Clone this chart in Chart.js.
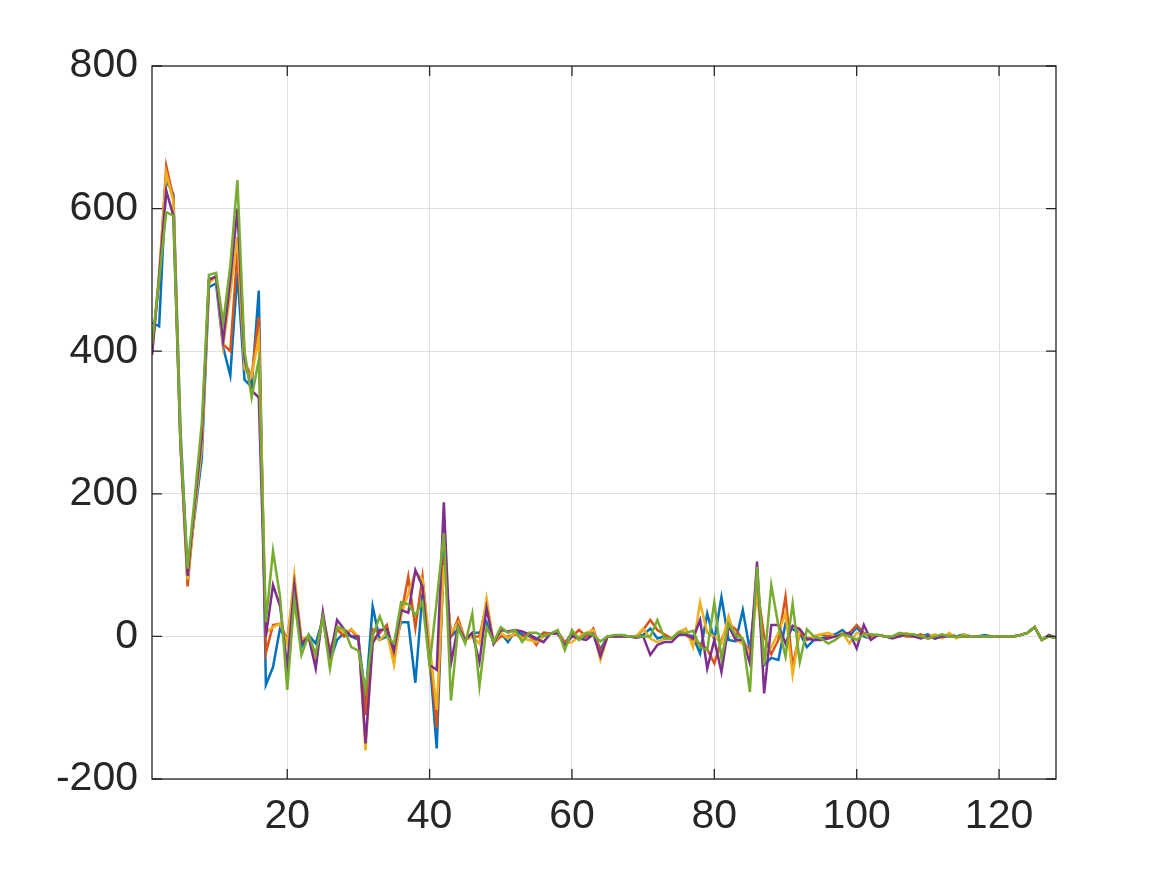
<!DOCTYPE html>
<html>
<head>
<meta charset="utf-8">
<title>Signals</title>
<script src="https://cdn.jsdelivr.net/npm/chart.js@4.4.1/dist/chart.umd.min.js"></script>
<style>
  html, body { margin: 0; padding: 0; background: #ffffff; }
  #wrap { width: 1167px; height: 875px; }
</style>
</head>
<body>
<div id="wrap"><canvas id="chart" width="1167" height="875"></canvas></div>
<script>
// values, x = 1..128
const blueVals = [
  440, 435, 640, 620, 290, 90, 170, 250, 490, 495, 405, 366, 510, 360, 350, 485,
  -68, -43, 12, -10, 60, -15, 2, -10, 25, -35, -5, 5, 0, -5, -85, 42,
  -5, 0, -15, 20, 20, -65, 60, -30, -157, 120, 0, 10, -5, 5, 5, 20,
  -10, 5, -8, 7, 3, 0, -5, 5, 4, 4, -10, 5, -3, 0, 5, -18,
  0, 0, 2, 0, 0, 2, 11, -3, 0, -3, 2, 3, 0, -24, 32, -5,
  55, -5, -7, 37, -20, 79, -40, -30, -33, 18, 10, 5, -15, -5, -3, 0,
  3, 9, 0, 13, 0, -3, 2, 0, 0, 0, 3, 0, 0, 3, -3, 0,
  3, 0, 3, 0, 0, 2, 0, 0, 0, 0, 2, 5, 13, -5, 0, -2
];
const orangeVals = [
  400, 500, 660, 615, 270, 70, 180, 270, 500, 505, 410, 400, 540, 385, 364, 448,
  -23, 16, 18, -5, 75, -5, 0, -30, 30, -20, 10, 0, 10, -5, -110, 10,
  5, 16, -30, 30, 84, 12, 84, -20, -128, 110, 0, 25, -5, 0, 0, 45,
  -10, 0, 0, 3, 0, 3, -12, 5, 4, 7, -8, 0, 9, 0, 11, -23,
  0, 0, 0, 0, 0, 9, 23, 9, 3, -3, 6, 2, -5, -10, -18, -38,
  -5, 18, 10, -5, -24, 70, 0, -25, -5, 56, -42, 5, -5, 0, 3, 0,
  0, 3, 5, 16, 5, 0, 2, 0, 0, 3, 0, 0, 3, -3, 0, 0,
  3, 0, 0, 0, 0, 0, 0, 0, 0, 0, 2, 5, 13, -5, 0, -2
];
const yellowVals = [
  395, 510, 650, 610, 280, 80, 175, 265, 495, 505, 408, 480, 560, 375, 365, 420,
  5, 13, 18, -10, 86, -5, 0, -35, 30, -40, 15, 5, 10, 0, -160, 0,
  -5, 5, -40, 30, 60, 90, 80, -10, -103, 100, 5, 20, -5, 0, -10, 53,
  -10, 5, -3, 5, -3, -5, -8, 0, 4, 4, -10, -8, 0, 5, 9, -33,
  0, 0, 0, 0, 0, 11, -3, -8, -3, -3, 6, 11, -15, 48, 5, 0,
  -10, 28, -5, -10, -24, 60, -30, -15, 5, 32, -54, 10, -3, 0, 3, 5,
  0, 5, -10, 5, 3, -3, 2, 0, 0, 0, 5, 0, 0, 0, 3, -3,
  5, -3, 3, 0, 0, 0, 0, 0, 0, 0, 2, 5, 13, -5, 0, -2
];
const purpleVals = [
  395, 505, 625, 590, 270, 85, 185, 280, 500, 505, 415, 500, 600, 390, 345, 335,
  0, 72, 42, -43, 72, -10, 0, -45, 34, -30, 23, 10, 0, 0, -150, -10,
  9, 10, -20, 37, 33, 93, 70, -40, -47, 188, -38, 15, -5, 5, -36, 40,
  -10, 9, 7, 9, 7, 3, -3, -8, 4, 4, -12, 0, -3, -5, 3, -28,
  0, 0, 0, 0, -2, 0, -26, -12, -8, -8, 2, 3, -3, 23, -45, -5,
  -50, 15, -5, -5, -38, 105, -80, 16, 16, -10, 15, 10, -3, -5, -5, -3,
  0, 3, 5, -17, 16, -5, 2, 0, -3, 0, 3, 0, -3, 0, -3, 0,
  0, 0, 0, 0, 0, 0, 0, 0, 0, 0, 2, 5, 13, -5, 2, -2
];
const greenVals = [
  410, 500, 595, 590, 275, 95, 195, 300, 507, 510, 440, 520, 640, 400, 335, 388,
  20, 120, 55, -75, 51, -26, 2, -25, 27, -45, 13, 10, -15, -20, -75, 0,
  28, 0, -10, 48, 45, 30, 48, -40, 50, 145, -90, 13, -10, 32, -70, 13,
  -8, 13, 5, 9, -8, 5, 5, 0, 4, 9, -19, 9, -5, 5, 2, -7,
  0, 2, 2, 0, 0, 0, 0, 23, -3, -3, 6, 5, 8, -15, -19, 48,
  -31, 18, 2, -3, -78, 98, -40, 72, 15, -28, 46, -36, 10, 0, -3, -10,
  -5, 3, 0, -5, 3, 3, 2, 0, 0, 5, 3, 3, 0, -3, 0, 3,
  0, 0, 0, 0, 0, 0, 0, 0, 0, 0, 2, 5, 13, -5, 0, -2
];

const xTicks = [20, 40, 60, 80, 100, 120];
const yTicks = [-200, 0, 200, 400, 600, 800];

const seriesColors = ['#0072BD', '#D95319', '#EDB120', '#7E2F8E', '#77AC30'];
const allSeries = [blueVals, orangeVals, yellowVals, purpleVals, greenVals];

const axisColor = '#262626';
const fontFamily = '"Liberation Sans", Arial, Helvetica, sans-serif';

function toPoints(vals) {
    return vals.map((v, i) => ({ x: i + 1, y: v }));
}

// MATLAB-style box with inward tick marks
const boxPlugin = {
    id: 'boxTicks',
    afterDraw(chart) {
        const ctx = chart.ctx;
        const area = chart.chartArea;
        const xs = chart.scales.x;
        const ys = chart.scales.y;
        const len = 10;
        ctx.save();
        ctx.strokeStyle = axisColor;
        ctx.lineWidth = 1.3;
        ctx.strokeRect(area.left, area.top, area.right - area.left, area.bottom - area.top);
        ctx.beginPath();
        xTicks.forEach(t => {
            const px = xs.getPixelForValue(t);
            ctx.moveTo(px, area.bottom);
            ctx.lineTo(px, area.bottom - len);
            ctx.moveTo(px, area.top);
            ctx.lineTo(px, area.top + len);
        });
        yTicks.forEach(t => {
            const py = ys.getPixelForValue(t);
            ctx.moveTo(area.left, py);
            ctx.lineTo(area.left + len, py);
            ctx.moveTo(area.right, py);
            ctx.lineTo(area.right - len, py);
        });
        ctx.stroke();
        ctx.restore();
    }
};

const ctx = document.getElementById('chart');
new Chart(ctx, {
    type: 'line',
    data: {
        datasets: allSeries.map((vals, i) => ({
            data: toPoints(vals),
            borderColor: seriesColors[i],
            backgroundColor: seriesColors[i],
            borderWidth: 2.5,
            pointRadius: 0,
            tension: 0,
            order: allSeries.length - i
        }))
    },
    options: {
        responsive: false,
        animation: false,
        layout: { padding: { top: 66, right: 111, left: 0, bottom: 0 } },
        plugins: {
            legend: { display: false },
            tooltip: { enabled: false }
        },
        scales: {
            x: {
                type: 'linear',
                min: 1,
                max: 128,
                afterBuildTicks: function(scale) {
                    scale.ticks = xTicks.map(v => ({ value: v }));
                },
                afterFit: function(scale) { scale.height = 96; },
                grid: { color: '#dfdfdf', lineWidth: 1, drawTicks: false },
                border: { display: false },
                ticks: {
                    color: axisColor,
                    padding: 13,
                    maxRotation: 0,
                    font: { family: fontFamily, size: 41 }
                }
            },
            y: {
                min: -200,
                max: 800,
                afterBuildTicks: function(scale) {
                    scale.ticks = yTicks.map(v => ({ value: v }));
                },
                afterFit: function(scale) { scale.width = 152; },
                grid: { color: '#dfdfdf', lineWidth: 1, drawTicks: false },
                border: { display: false },
                ticks: {
                    color: axisColor,
                    padding: 14,
                    font: { family: fontFamily, size: 41 }
                }
            }
        }
    },
    plugins: [boxPlugin]
});
</script>
</body>
</html>
